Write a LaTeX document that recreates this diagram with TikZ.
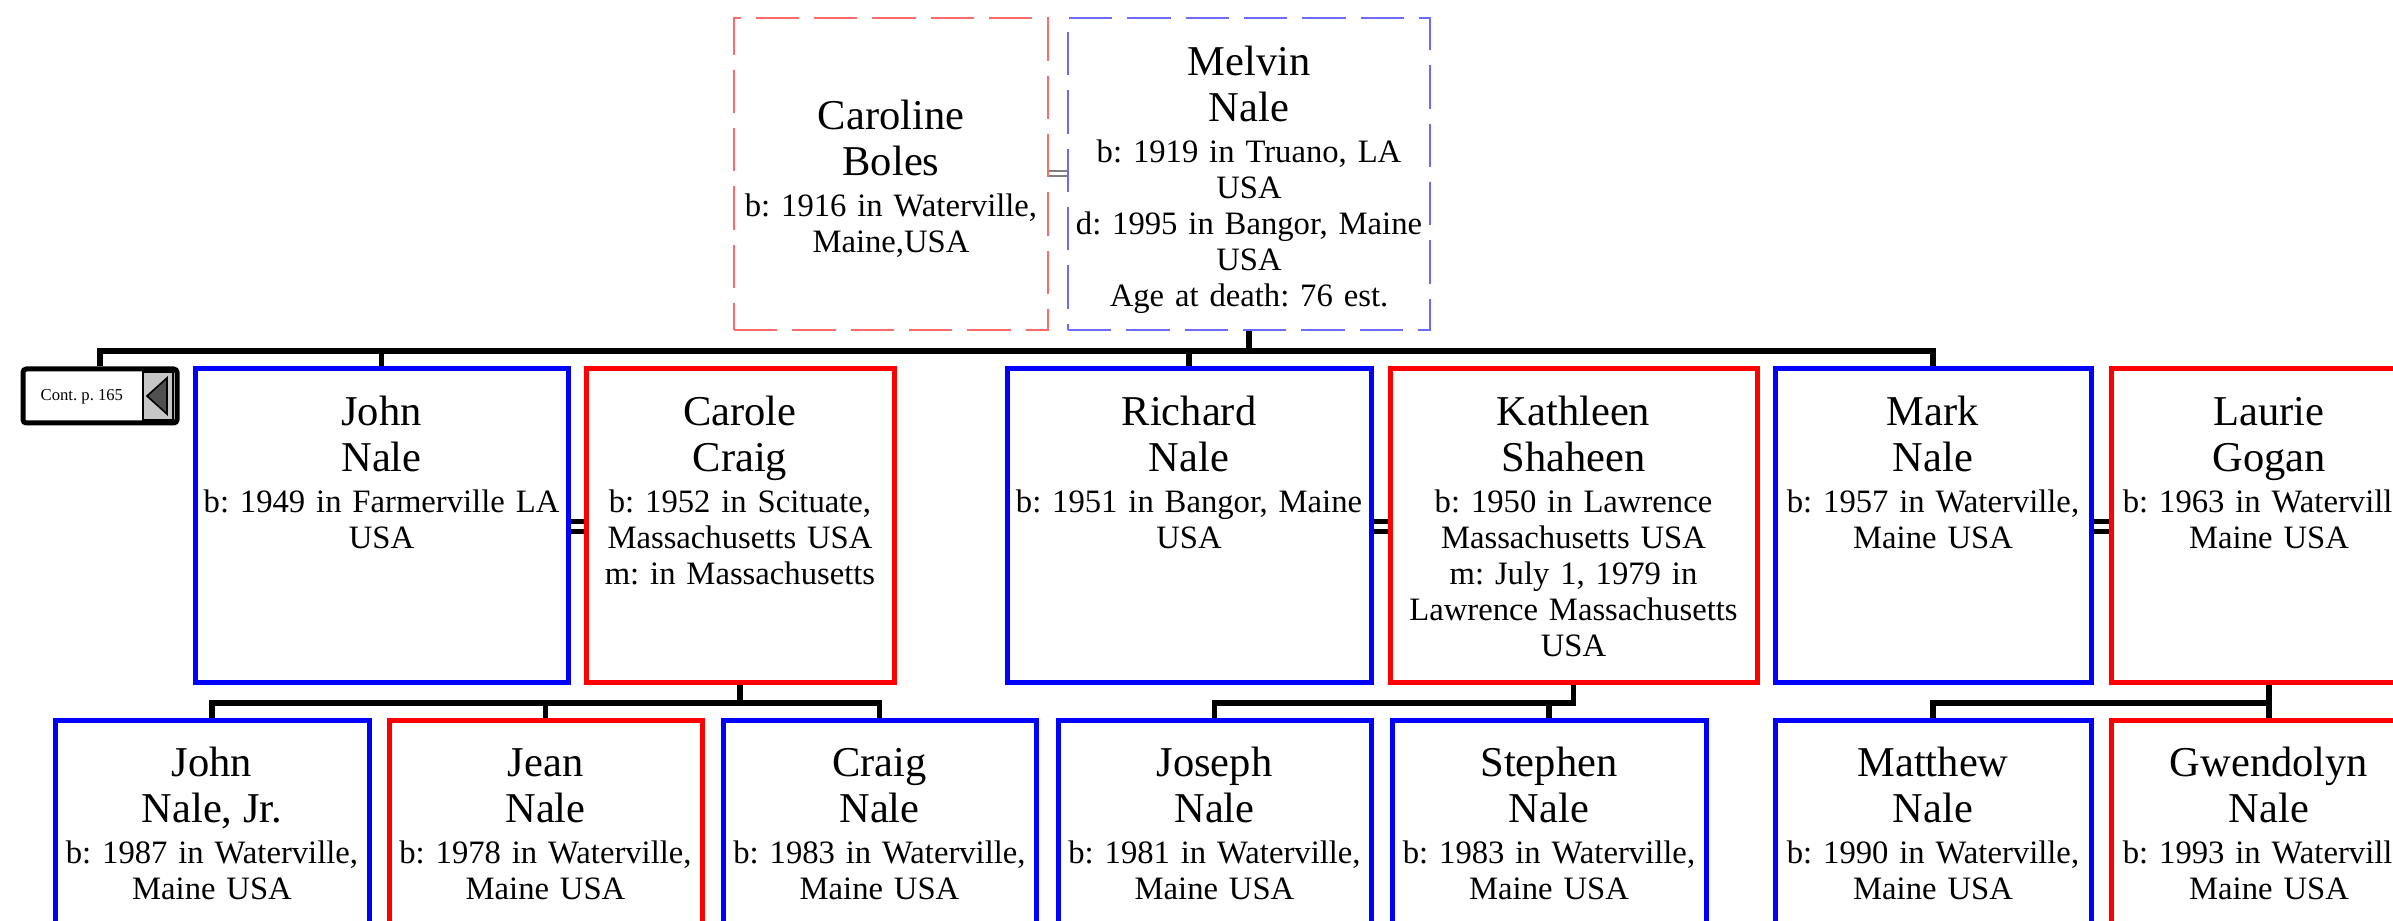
\documentclass[tikz,border=0pt]{standalone}
\usepackage{fontspec}
\setmainfont{Liberation Serif}
\usetikzlibrary{fit}
\frenchspacing
\newcommand\nmf{\fontsize{12.75pt}{10.8pt}\selectfont\lineskiplimit=-30pt\lineskip=0pt}
\newcommand\dtf{\fontsize{9.8pt}{10.8pt}\selectfont\lineskiplimit=-30pt\lineskip=0pt}
\definecolor{lred}{HTML}{FF6A6A}
\definecolor{lblue}{HTML}{6A6AFF}
\tikzset{
  pbox/.style={draw, line width=1.5pt, inner sep=0pt, fill=white},
  tbox/.style={draw, line width=0.5pt, dash pattern=on 13pt off 4.5pt, inner sep=0pt, fill=white},
  ptext/.style={anchor=north, align=center, text width=130pt, inner sep=0pt, font=\dtf},
  conn/.style={draw=black, line width=1.6pt},
  mline/.style={draw=black, line width=1.5pt},
  tmline/.style={draw=gray, line width=0.6pt},
}
\newcommand\person[7]{%
  \node[pbox, draw=#6, fit={(#2,#3)(#4,#5)}] (#1) {};
  \node[ptext] (#1-t) at ([yshift=-8.4pt]#1.north) {\rule{0pt}{9pt}#7};
}
\begin{document}
\begin{tikzpicture}[x=0.3pt, y=-0.3pt]
\useasboundingbox (0,0) rectangle (2393,921);
\clip (0,0) rectangle (2393,921);
\fill[white] (0,0) rectangle (2393,921);

\coordinate (bar1) at (0,351);
\coordinate (bar2) at (0,703);

% top couple
\node[tbox, draw=lred, fit={(734,18)(1048,330)}] (caroline) {};
\node[ptext] (caroline-t) at ([yshift=-24.6pt]caroline.north) {\rule{0pt}{9pt}\nmf Caroline\\[3pt]Boles\\[1.5pt]\dtf b: 1916 in Waterville,\\Maine,USA};
\node[tbox, draw=lblue, fit={(1068,18)(1430,330)}] (melvin) {};
\node[ptext] (melvin-t) at ([yshift=-8.4pt]melvin.north) {\rule{0pt}{9pt}\nmf Melvin\\[3pt]Nale\\[1.5pt]\dtf b: 1919 in Truano, LA\\USA\\d: 1995 in Bangor, Maine\\USA\\Age at death: 76 est.};
\draw[tmline] ([yshift=1pt]caroline.east) -- ([yshift=1pt]caroline.east -| melvin.west);
\draw[tmline] ([yshift=-0.6pt]caroline.east) -- ([yshift=-0.6pt]caroline.east -| melvin.west);

% continuation box
\node[draw, line width=1.5pt, rounded corners=1pt, inner sep=0pt, fill=white, fit={(23,369)(177,423)}] (cont) {};
\node[draw=black, line width=0.4pt, fill=gray!45, inner sep=0pt, fit={(143,372)(173,420)}] (contbtn) {};
\path[draw=black, line width=0.5pt, fill=gray!95!white!60!black] (147,396) -- (167,378) -- (167,414) -- cycle;
\node[anchor=base west, inner sep=0pt, font=\fontsize{5pt}{6pt}\selectfont] (cont-t) at (40,401) {Cont. p. 165};

% second row
\person{john}{195}{369}{568}{682}{blue}{\nmf John\\[3pt]Nale\\[1.5pt]\dtf b: 1949 in Farmerville LA\\USA}
\person{carole}{586}{369}{894}{682}{red}{\nmf Carole\\[3pt]Craig\\[1.5pt]\dtf b: 1952 in Scituate,\\Massachusetts USA\\m: in Massachusetts}
\person{richard}{1007}{369}{1371}{682}{blue}{\nmf Richard\\[3pt]Nale\\[1.5pt]\dtf b: 1951 in Bangor, Maine\\USA}
\person{kathleen}{1390}{369}{1757}{682}{red}{\nmf Kathleen\\[3pt]Shaheen\\[1.5pt]\dtf b: 1950 in Lawrence\\Massachusetts USA\\m: July 1, 1979 in\\Lawrence Massachusetts\\USA}
\person{mark}{1775}{369}{2091}{682}{blue}{\nmf Mark\\[3pt]Nale\\[1.5pt]\dtf b: 1957 in Waterville,\\Maine USA}
\person{laurie}{2111}{369}{2427}{682}{red}{\nmf Laurie\\[3pt]Gogan\\[1.5pt]\dtf b: 1963 in Waterville,\\Maine USA}

% third row
\person{johnjr}{55}{720}{369}{1000}{blue}{\nmf John\\[3pt]Nale, Jr.\\[1.5pt]\dtf b: 1987 in Waterville,\\Maine USA}
\person{jean}{389}{720}{702}{1000}{red}{\nmf Jean\\[3pt]Nale\\[1.5pt]\dtf b: 1978 in Waterville,\\Maine USA}
\person{craig}{723}{720}{1036}{1000}{blue}{\nmf Craig\\[3pt]Nale\\[1.5pt]\dtf b: 1983 in Waterville,\\Maine USA}
\person{joseph}{1058}{720}{1371}{1000}{blue}{\nmf Joseph\\[3pt]Nale\\[1.5pt]\dtf b: 1981 in Waterville,\\Maine USA}
\person{stephen}{1392}{720}{1706}{1000}{blue}{\nmf Stephen\\[3pt]Nale\\[1.5pt]\dtf b: 1983 in Waterville,\\Maine USA}
\person{matthew}{1775}{720}{2091}{1000}{blue}{\nmf Matthew\\[3pt]Nale\\[1.5pt]\dtf b: 1990 in Waterville,\\Maine USA}
\person{gwendolyn}{2111}{720}{2427}{1000}{red}{\nmf Gwendolyn\\[3pt]Nale\\[1.5pt]\dtf b: 1993 in Waterville,\\Maine USA}

% connectors level 1
\draw[conn] (melvin.south) -- (melvin.south |- bar1);
\draw[conn] (cont.north) -- (cont.north |- bar1) -| (mark.north);
\draw[conn] (john.north) -- (john.north |- bar1);
\draw[conn] (richard.north) -- (richard.north |- bar1);

% marriages
\foreach \a/\b in {john/carole, richard/kathleen, mark/laurie}{
  \draw[mline] ([yshift=1.2pt]\a.east) -- ([yshift=1.2pt]\a.east -| \b.west);
  \draw[mline] ([yshift=-1.8pt]\a.east) -- ([yshift=-1.8pt]\a.east -| \b.west);
}

% connectors level 2
\draw[conn] (carole.south) -- (carole.south |- bar2);
\draw[conn] (johnjr.north) -- (johnjr.north |- bar2) -| (craig.north);
\draw[conn] (jean.north) -- (jean.north |- bar2);
\draw[conn] (kathleen.south) |- (joseph.north |- bar2) -- (joseph.north);
\draw[conn] (stephen.north) -- (stephen.north |- bar2);
\draw[conn] (laurie.south) |- (matthew.north |- bar2) -- (matthew.north);
\draw[conn] (laurie.south) -- (gwendolyn.north);
\end{tikzpicture}
\end{document}
